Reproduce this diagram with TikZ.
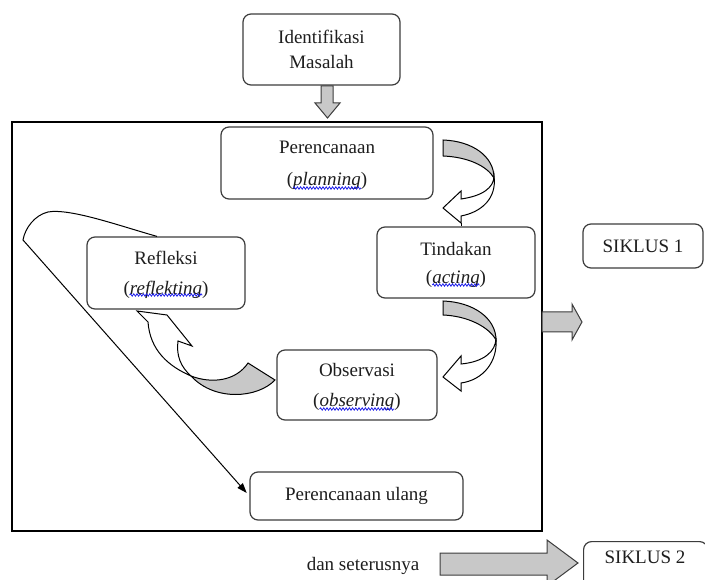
\documentclass[tikz,border=0pt]{standalone}
\usepackage{fontspec}
\setmainfont{Liberation Serif}
\usetikzlibrary{arrows.meta,decorations.pathmorphing}
\definecolor{edgec}{RGB}{60,60,60}
\definecolor{shadec}{RGB}{200,200,200}
\definecolor{txtc}{RGB}{30,30,30}
\definecolor{wavec}{RGB}{30,30,235}
\newcommand\topstrut{\rule{0pt}{18pt}}
\begin{document}
\begin{tikzpicture}[x=1pt,y=-1pt,
  box/.style={draw=edgec, line width=1.2pt, rounded corners=8pt, fill=white, align=center,
    text=txtc, font=\fontsize{19}{25}\selectfont, inner sep=0pt},
  lbl/.style={text=txtc, font=\fontsize{19}{25}\selectfont, inner sep=0pt},
  blk/.style={draw=edgec, line width=1pt, fill=shadec, line join=miter},
  curv/.style={draw=black, line width=1pt, line join=miter},
  conn/.style={draw=black, line width=1pt, -{Triangle[length=10pt,width=7pt]}},
  squig/.style={draw=wavec, line width=0.8pt, decorate, decoration={snake, amplitude=1.2pt, segment length=3.2pt}}
]
\useasboundingbox (0,0) rectangle (705,580);

% outer frame
\node[draw=black, line width=1.1pt, minimum width=530pt, minimum height=409pt, inner sep=0pt] (frame) at (277,326.5) {};

% boxes
\node[box, minimum width=157pt, minimum height=71pt] (ident) at (321.5,49.5) {Identifikasi\\Masalah};
\node[box, minimum width=212pt, minimum height=72pt] (plan) at (327,163) {\topstrut Perencanaan\\[7pt](\textit{planning})};
\node[box, minimum width=158pt, minimum height=71pt] (tind) at (456,262.5) {\topstrut Tindakan\\[3pt](\textit{acting})};
\node[box, minimum width=158pt, minimum height=72pt] (refl) at (166,273) {\topstrut Refleksi\\[5pt](\textit{reflekting})};
\node[box, minimum width=160pt, minimum height=70pt] (obs) at (357,385) {\topstrut Observasi\\[5pt](\textit{observing})};
\node[box, minimum width=213pt, minimum height=48pt] (ulang) at (356.5,496) {Perencanaan ulang};
\node[box, minimum width=120pt, minimum height=44pt] (s1) at (643,246) {SIKLUS 1};
\node[box, minimum width=124pt, minimum height=60pt, anchor=north west] (s2) at (583,541) {};
\node[lbl] (s2t) at (645,557) {SIKLUS 2};
\node[lbl] (dan) at (363,566) {dan seterusnya};

% spell-check squiggles
\path[squig] ([xshift=-33.8pt,yshift=-25pt]plan.center) -- ([xshift=33.8pt,yshift=-25pt]plan.center);
\path[squig] ([xshift=-23.7pt,yshift=-22.5pt]tind.center) -- ([xshift=23.7pt,yshift=-22.5pt]tind.center);
\path[squig] ([xshift=-36.4pt,yshift=-22pt]refl.center) -- ([xshift=36.4pt,yshift=-22pt]refl.center);
\path[squig] ([xshift=-37.4pt,yshift=-24pt]obs.center) -- ([xshift=37.4pt,yshift=-24pt]obs.center);

% block arrows
\path[blk] (321,86) -- (333,86) -- (333,103) -- (340,103) -- (327.5,118) -- (315,103) -- (321,103) -- cycle;
\path[blk] (542,312) -- (572,312) -- (572,304) -- (582,322) -- (572,340) -- (572,332) -- (542,332) -- cycle;
\path[blk] (440,553) -- (547,553) -- (547,540) -- (578,563) -- (547,586) -- (547,575) -- (440,575) -- cycle;

% curved arrow: plan -> tind
\path[curv, fill=shadec] (443,140) .. controls (472,141) and (494,156) .. (494,178)
   .. controls (487,166) and (468,157) .. (443,156) -- cycle;
\path[curv, fill=white] (494,176) .. controls (494,188) and (482,196) .. (461,199) -- (461,191)
   -- (443,208) -- (461,223) -- (461,216) .. controls (482,212) and (497,198) .. (494,176) -- cycle;
\coordinate (a1b) at (461,223);
\draw[line width=1pt] (a1b) -- (a1b |- tind.north);

% curved arrow: tind -> obs
\path[curv, fill=shadec] (443,301) .. controls (473,302) and (496,318) .. (496,340)
   .. controls (489,327) and (468,316) .. (443,315) -- cycle;
\path[curv, fill=white] (496,338) .. controls (496,352) and (483,362) .. (461,364) -- (461,356)
   -- (443,377) -- (461,391) -- (461,383) .. controls (483,380) and (498,362) .. (496,338) -- cycle;

% curved arrow: obs -> refl
\path[curv, fill=shadec] (191,376) .. controls (212,384) and (236,381) .. (248,363) -- (275,380)
   .. controls (258,398) and (215,402) .. (191,376) -- cycle;
\path[curv, fill=white] (137,311) -- (167,315) -- (192,346) -- (178,341)
   .. controls (176,356) and (181,367) .. (191,376)
   .. controls (168,366) and (150,350) .. (148,322) -- cycle;

% refl -> perencanaan ulang
\coordinate (lstart) at ([xshift=-9pt]refl.north);
\draw[conn, shorten >=4pt] (lstart) .. controls (120,226) and (70,208) .. (48,212)
   .. controls (35,215) and (25,228) .. (23,240) -- (ulang.west);
\end{tikzpicture}
\end{document}
